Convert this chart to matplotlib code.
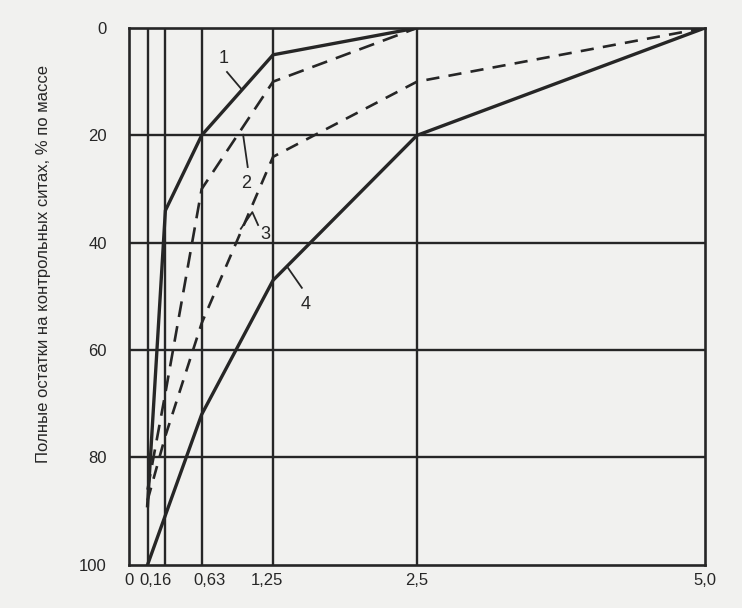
import numpy as np
import matplotlib
matplotlib.use("Agg")
import matplotlib.pyplot as plt
from matplotlib.transforms import ScaledTranslation

plt.rcParams['font.family'] = ['Liberation Sans', 'DejaVu Sans']

# sieve sizes (mm) and full residues (% by mass)
x1 = [0.16, 0.315, 0.63, 1.25, 2.5]
y1 = [89, 34, 20, 5, 0]
x2 = [0.16, 0.315, 0.63, 1.25, 2.5]
y2 = [86, 68, 30, 10, 0]
x3 = [0.16, 0.315, 0.63, 1.25, 2.5, 5.0]
y3 = [88, 76, 55, 24, 10, 0]
x4 = [0.16, 0.63, 1.25, 2.5, 5.0]
y4 = [100, 72, 47, 20, 0]

sieves = [0.16, 0.315, 0.63, 1.25, 2.5]
levels = [20, 40, 60, 80]
xticks = [0, 0.16, 0.63, 1.25, 2.5, 5.0]
xticklabels = ['0', '0,16', '0,63', '1,25', '2,5', '5,0']
yticks = [0, 20, 40, 60, 80, 100]

ink = '#262626'
paper = '#f1f1ef'

fig = plt.figure(figsize=(7.42, 6.08), dpi=100, facecolor=paper)
ax = fig.add_axes([0.174, 0.071, 0.776, 0.883])
ax.set_facecolor(paper)

for s in sieves:
    ax.axvline(s, color=ink, lw=1.7, zorder=1)
for l in levels:
    ax.axhline(l, color=ink, lw=1.7, zorder=1)

ax.plot(x1, y1, color=ink, lw=2.4, zorder=3)
ax.plot(x2, y2, color=ink, lw=1.9, dashes=(6, 3.5), zorder=3)
ax.plot(x3, y3, color=ink, lw=1.9, dashes=(5, 3.5), zorder=3)
ax.plot(x4, y4, color=ink, lw=2.4, zorder=3)

# curve numbers with leader lines
ax.plot([0.85, 0.98], [8.2, 11.5], color=ink, lw=1.3)
ax.text(0.82, 5.6, '1', fontsize=13, ha='center', va='center', color=ink)
ax.plot([0.99, 1.03], [19.9, 25.9], color=ink, lw=1.3)
ax.text(1.02, 29.0, '2', fontsize=13, ha='center', va='center', color=ink)
ax.plot([0.97, 1.07, 1.12], [37.4, 34.3, 36.7], color=ink, lw=1.3)
ax.text(1.18, 38.4, '3', fontsize=13, ha='center', va='center', color=ink)
ax.plot([1.38, 1.50], [44.7, 48.4], color=ink, lw=1.3)
ax.text(1.53, 51.5, '4', fontsize=13, ha='center', va='center', color=ink)

ax.set_xlim(0, 5.0)
ax.set_ylim(100, 0)
ax.set_xticks(xticks)
ax.set_xticklabels(xticklabels)
ax.set_yticks(yticks)
ax.tick_params(length=0, labelsize=12, colors=ink)
ax.tick_params(axis='y', pad=16)
ax.tick_params(axis='x', pad=6)

shifts = {'0,16': 8, '0,63': 8, '1,25': -6}
for lab in ax.get_xticklabels():
    dx = shifts.get(lab.get_text(), 0)
    lab.set_transform(lab.get_transform() + ScaledTranslation(dx / 100, 0, fig.dpi_scale_trans))

for sp in ax.spines.values():
    sp.set_color(ink)
    sp.set_linewidth(1.9)

fig.text(0.058, 0.565, 'Полные остатки на контрольных ситах, % по массе',
         rotation=90, ha='center', va='center', fontsize=12, color=ink)

fig.savefig('out.png', dpi=100, facecolor=paper)
